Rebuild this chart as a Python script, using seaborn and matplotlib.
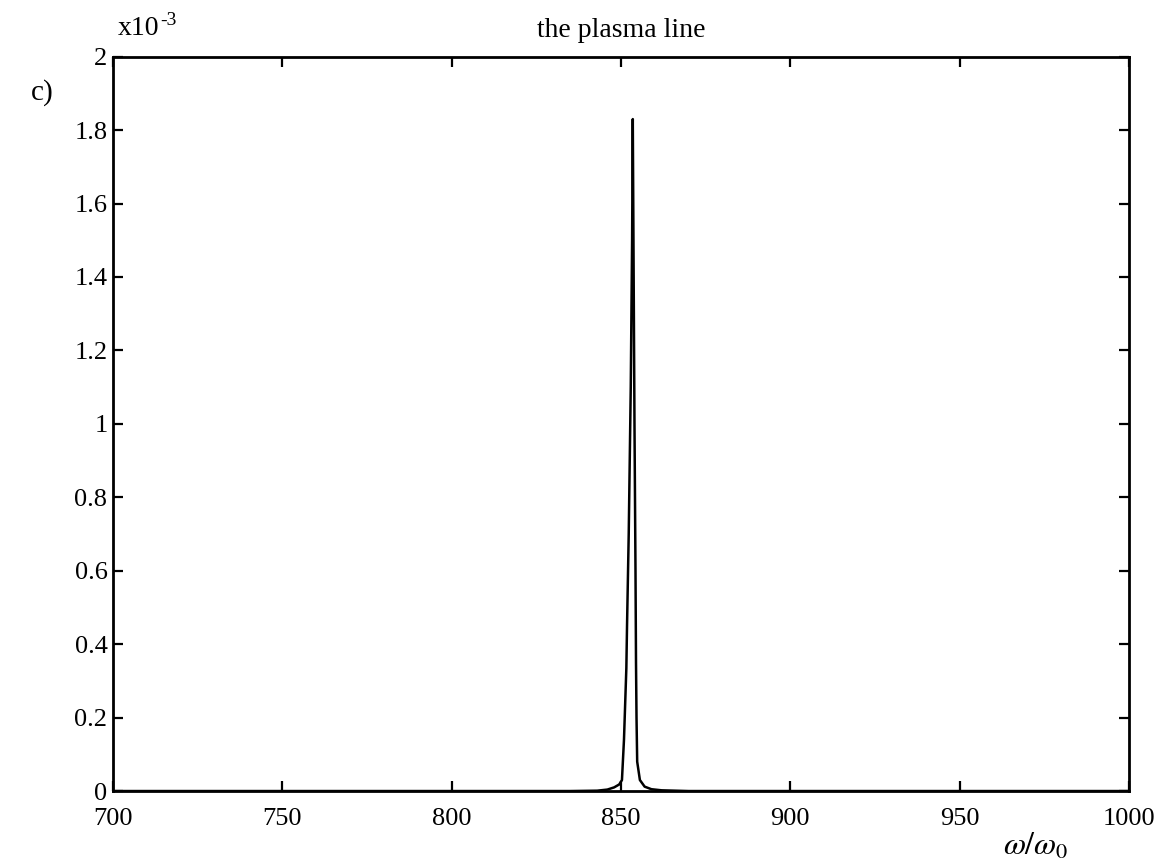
import matplotlib
matplotlib.use("Agg")
import matplotlib.pyplot as plt
import seaborn as sns
import pandas as pd

# Plasma line spectrum, amplitude in units of 1e-3
omega = [700, 800, 835, 843, 846, 848, 849.5, 850.3, 850.9, 851.6, 851.8, 852.3,
         852.9, 853.3, 853.5, 853.7, 854.0, 854.3, 854.45, 854.6, 854.8, 855.6,
         857, 859, 862, 870, 1000]
power = [0.0, 0.0, 0.0, 0.001, 0.004, 0.01, 0.018, 0.03, 0.14, 0.335, 0.45, 0.70,
         1.10, 1.50, 1.83, 1.50, 1.00, 0.60, 0.35, 0.20, 0.08, 0.03,
         0.012, 0.005, 0.002, 0.0, 0.0]

x_ticks = [700, 750, 800, 850, 900, 950, 1000]
y_ticks = [0, 0.2, 0.4, 0.6, 0.8, 1.0, 1.2, 1.4, 1.6, 1.8, 2.0]
y_tick_labels = ["0", "0.2", "0.4", "0.6", "0.8", "1", "1.2", "1.4", "1.6", "1.8", "2"]

sns.set_style("ticks")
plt.rcParams["font.family"] = ["Liberation Serif", "DejaVu Serif"]
plt.rcParams["mathtext.fontset"] = "stix"
plt.rcParams["text.color"] = "black"

df = pd.DataFrame({"omega": omega, "power": power})

fig = plt.figure(figsize=(11.59, 8.65), dpi=100)
ax = fig.add_axes([0.0975, 0.0855, 0.8765, 0.849])

sns.lineplot(data=df, x="omega", y="power", ax=ax, color="black",
             linewidth=1.8, estimator=None, sort=False)

ax.set_xlim(700, 1000)
ax.set_ylim(0, 2)
ax.set_xticks(x_ticks)
ax.set_xticklabels([str(t) for t in x_ticks])
ax.set_yticks(y_ticks)
ax.set_yticklabels(y_tick_labels)
ax.tick_params(direction="in", length=7.5, width=1.6, top=True, right=True,
               labelsize=19, colors="black")
ax.tick_params(axis="x", pad=12)
ax.tick_params(axis="y", pad=4)
for side in ax.spines.values():
    side.set_visible(True)
    side.set_linewidth(2.0)
    side.set_color("black")

ax.set_xlabel("")
ax.set_ylabel("")
ax.set_title("the plasma line", fontsize=20, pad=14, color="black")

fig.text(0.102, 0.9595, "x10", fontsize=20, ha="left", va="baseline", color="black")
fig.text(0.1385, 0.9715, "-3", fontsize=14, ha="left", va="baseline", color="black")
fig.text(0.027, 0.8925, "c)", fontsize=21, ha="left", va="center", color="black")
fig.text(0.894, 0.021, r"$\omega/\omega_0$", fontsize=23, ha="center", va="center",
         color="black")

fig.savefig("out.png", dpi=100, facecolor="white")
